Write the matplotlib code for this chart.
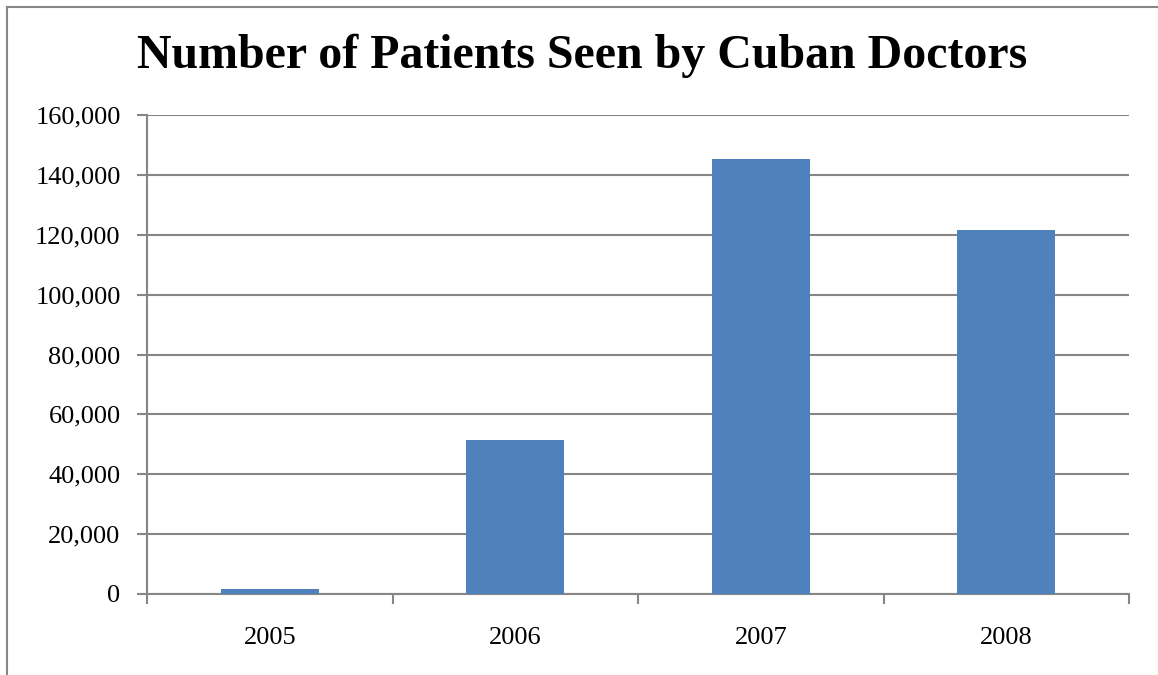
import matplotlib
matplotlib.use("Agg")
import matplotlib.pyplot as plt
from matplotlib.ticker import FuncFormatter, FixedLocator
from matplotlib.lines import Line2D

years = ["2005", "2006", "2007", "2008"]
patients = [1700, 51400, 145200, 121500]
yticks = [0, 20000, 40000, 60000, 80000, 100000, 120000, 140000, 160000]
title = "Number of Patients Seen by Cuban Doctors"

plt.rcParams['font.family'] = ['Liberation Serif', 'DejaVu Serif']

fig = plt.figure(figsize=(11.58, 6.75), dpi=100)
ax = fig.add_axes([147/1158, 1-594/675, (1129-147)/1158, (594-115)/675])

grid_c = "#868686"
x = list(range(len(years)))
ax.bar(x, patients, width=0.4, color="#4F81BD", zorder=3)
ax.set_xlim(-0.5, len(years) - 0.5)
ax.set_ylim(0, 160000)
ax.set_yticks(yticks)
ax.yaxis.set_major_formatter(FuncFormatter(lambda v, p: f"{int(v):,}"))
ax.set_xticks(x)
ax.set_xticklabels(years)
ax.xaxis.set_minor_locator(FixedLocator([i - 0.5 for i in range(len(years) + 1)]))
ax.tick_params(axis='x', which='major', length=0, labelsize=19, pad=24)
ax.tick_params(axis='x', which='minor', length=7, width=1.5, color=grid_c, direction='out')
ax.tick_params(axis='y', length=7, width=1.5, color=grid_c, labelsize=19, pad=12)
ax.grid(axis='y', color=grid_c, linewidth=1.5, zorder=0)
for s in ['top', 'right']:
    ax.spines[s].set_visible(False)
for s in ['left', 'bottom']:
    ax.spines[s].set_color(grid_c)
    ax.spines[s].set_linewidth(1.5)

fig.text(0.5 * (137 + 1028) / 1158, 1 - 56/675, title, ha='center', va='center',
         fontsize=34.5, fontweight='bold')

fig.add_artist(Line2D([7/1158, 1], [1-7/675, 1-7/675], color=grid_c, linewidth=1.5,
                      transform=fig.transFigure))
fig.add_artist(Line2D([7/1158, 7/1158], [0, 1-7/675], color=grid_c, linewidth=1.5,
                      transform=fig.transFigure))

fig.savefig("out.png", dpi=100, facecolor="white")
